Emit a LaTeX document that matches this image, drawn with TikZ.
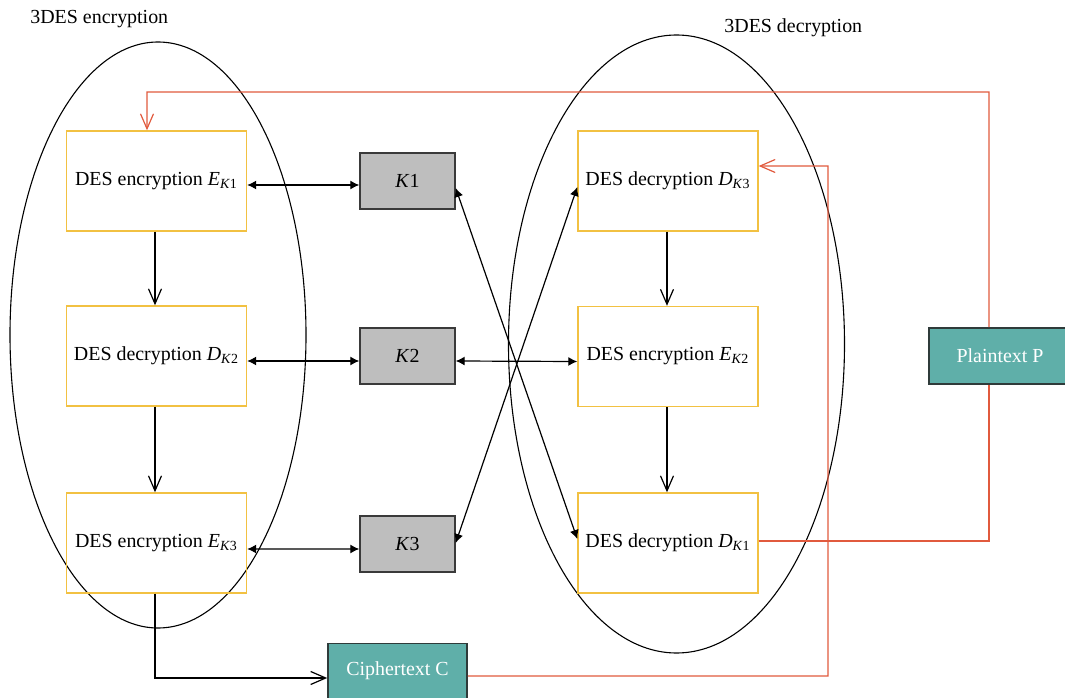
\documentclass[tikz,border=0pt]{standalone}
\usepackage{fontspec}
\setmainfont{Liberation Serif}
\usetikzlibrary{arrows.meta}

\definecolor{desyellow}{HTML}{F2C142}
\definecolor{flowred}{HTML}{E15A3E}
\definecolor{tealfill}{HTML}{5FAFA9}
\definecolor{tealedge}{HTML}{2F3B3A}
\definecolor{keyfill}{HTML}{BEBEBE}
\definecolor{keyedge}{HTML}{3A3A3A}

\newcommand{\sub}[2]{\textit{#1}\textsubscript{\textit{K}#2}}

\begin{document}
\begin{tikzpicture}[
  x=0.5bp, y=-0.5bp,
  every node/.style={font=\fontsize{10}{12}\selectfont},
  desbox/.style={draw=desyellow, line width=0.7bp,
    minimum width=90bp, minimum height=50bp, inner sep=0pt},
  keybox/.style={draw=keyedge, line width=0.7bp, fill=keyfill,
    minimum width=47.5bp, minimum height=28bp, inner sep=0pt},
  databox/.style={draw=tealedge, line width=0.8bp, fill=tealfill,
    text=white, minimum height=27.5bp, inner sep=0pt},
  group/.style={draw=black, line width=0.55bp},
  keylink/.style={draw=black, line width=0.6bp,
    {Latex[length=4.5bp,width=4.5bp]}-{Latex[length=4.5bp,width=4.5bp]}},
  flow/.style={draw=black, line width=0.6bp,
    -{Straight Barb[length=7.5bp,width=6.5bp]}},
  redflow/.style={draw=flowred, line width=0.6bp,
    -{Straight Barb[length=7.5bp,width=6.5bp]}},
  redline/.style={draw=flowred, line width=0.6bp}
]
\useasboundingbox (0,0) rectangle (1065,698);
\clip (0,0) rectangle (1065,698);

% group outlines and their titles
\draw[group] (158,335) ellipse [x radius=74bp, y radius=146.5bp];
\draw[group] (676.5,344) ellipse [x radius=84bp, y radius=154.5bp];
\node[anchor=west, inner sep=0pt] (enctitle) at (30,19) {3DES encryption};
\node[anchor=west, inner sep=0pt] (dectitle) at (724,28) {3DES decryption};

% encryption chain
\node[desbox] (e1) at (156.5,181) {DES encryption \sub{E}{1}};
\node[desbox] (d2) at (156.5,356) {DES decryption \sub{D}{2}};
\node[desbox] (e3) at (156.5,543) {DES encryption \sub{E}{3}};

% keys
\node[keybox] (k1) at (407.5,181) {\textit{K}1};
\node[keybox] (k2) at (407.5,356) {\textit{K}2};
\node[keybox] (k3) at (407.5,544) {\textit{K}3};

% decryption chain
\node[desbox] (d3) at (668,181) {DES decryption \sub{D}{3}};
\node[desbox] (e2) at (668,356.5) {DES encryption \sub{E}{2}};
\node[desbox] (d1) at (668,543) {DES decryption \sub{D}{1}};

% data blocks
\node[databox, minimum width=69.5bp] (cipher) at (397.5,671) {Ciphertext C};
\node[databox, minimum width=71bp, minimum height=28bp] (plain) at (1000,356) {Plaintext P};

% pipeline steps
\draw[flow] ([xshift=-0.75bp]e1.south) -- ([xshift=-0.75bp]d2.north);
\draw[flow] ([xshift=-0.75bp]d2.south) -- ([xshift=-0.75bp]e3.north);
\draw[flow] ([xshift=-0.5bp]d3.south) -- ([xshift=-0.5bp]e2.north);
\draw[flow] ([xshift=-0.5bp]e2.south) -- ([xshift=-0.5bp]d1.north);
\draw[flow] ([xshift=-0.75bp]e3.south) |- ([yshift=-3.5bp]cipher.west);

% key distribution
\draw[keylink] ([yshift=-2bp]e1.east) -- ([yshift=-2bp]k1.west);
\draw[keylink] ([yshift=-2.5bp]d2.east) -- ([yshift=-2.5bp]k2.west);
\draw[keylink] ([yshift=-3bp]e3.east) -- ([yshift=-2.5bp]k3.west);
\draw[keylink] ([yshift=-2.5bp]k2.east) -- ([yshift=-2.5bp]e2.west);
\draw[keylink] ([yshift=-3.5bp]k1.east) -- ([yshift=2bp]d1.west);
\draw[keylink] ([yshift=0.5bp]k3.east) -- ([yshift=-3bp]d3.west);

% data paths
\coordinate (cturn) at (828,676);
\coordinate (dturn) at (828,166);
\draw[redflow] ([yshift=-2.5bp]cipher.east) -- (cturn) -- (dturn) -- ([yshift=7.5bp]d3.east);
\draw[redline] ([yshift=1bp]d1.east) -| ([xshift=-5.5bp]plain.south);
\coordinate (pturn) at (989,92);
\coordinate (eturn) at (147,92);
\draw[redflow] ([xshift=-5.5bp]plain.north) -- (pturn) -- (eturn) -- ([xshift=-4.75bp]e1.north);
\end{tikzpicture}
\end{document}
